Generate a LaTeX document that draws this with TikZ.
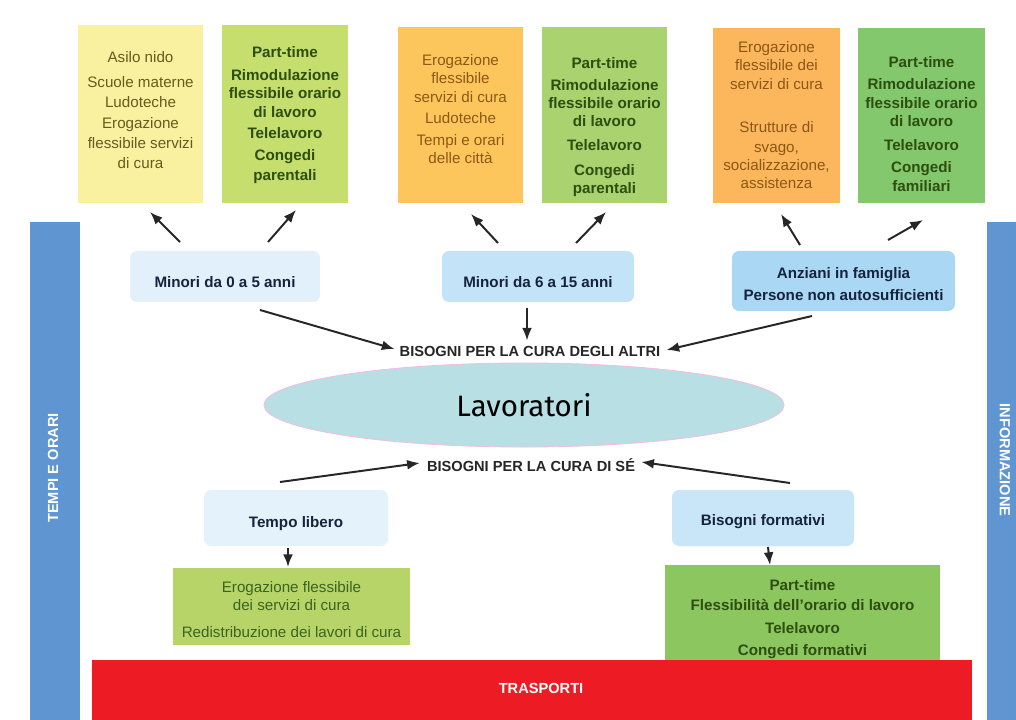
\documentclass[tikz,border=0pt]{standalone}
\usepackage{fontspec}
\setmainfont{Liberation Sans}
\newfontfamily\lavfont{Fira Sans}
\usetikzlibrary{calc,arrows.meta,fit,shapes.geometric}

\definecolor{cYel}{RGB}{249,240,160}
\definecolor{cLime}{RGB}{198,222,110}
\definecolor{cOrA}{RGB}{253,198,92}
\definecolor{cGrA}{RGB}{170,210,110}
\definecolor{cOrB}{RGB}{252,182,92}
\definecolor{cGrB}{RGB}{132,200,110}
\definecolor{cGrC}{RGB}{183,212,105}
\definecolor{cGrD}{RGB}{140,198,95}
\definecolor{cRed}{RGB}{237,28,36}
\definecolor{cBar}{RGB}{95,150,210}
\definecolor{cEll}{RGB}{184,223,227}
\definecolor{cPink}{RGB}{240,190,225}
\definecolor{cM1}{RGB}{225,240,250}
\definecolor{cM2}{RGB}{195,228,248}
\definecolor{cM3}{RGB}{170,216,244}
\definecolor{cTL}{RGB}{228,242,251}
\definecolor{cBF}{RGB}{200,230,248}
\definecolor{tOlive}{RGB}{105,90,30}
\definecolor{tDkGr}{RGB}{45,78,15}
\definecolor{tBrown}{RGB}{140,88,22}
\definecolor{tNavy}{RGB}{22,35,60}
\definecolor{tGrL}{RGB}{60,100,30}

\begin{document}
\begin{tikzpicture}[x=0.025cm,y=-0.025cm,
  box/.style={inner sep=0pt, outer sep=0pt, draw=none},
  needbox/.style={box, rounded corners=5pt},
  txt/.style={inner sep=0pt, align=center, font=\fontsize{10.8pt}{13pt}\selectfont},
  btxt/.style={inner sep=0pt, align=center, font=\fontsize{10.8pt}{13pt}\selectfont\bfseries},
  captxt/.style={inner sep=0pt, font=\fontsize{10.4pt}{12pt}\selectfont\bfseries},
  arr/.style={-{Latex[length=9pt,width=7pt]}, line width=1.4pt, black!85}]

\useasboundingbox (0,0) rectangle (1016,720);
\fill[white] (0,0) rectangle (1016,720);

% side bars
\node[box, fill=cBar, fit={(30,222)(80,720)}] (lbar) {};
\node[box, fill=cBar, fit={(987,222)(1016,720)}] (rbar) {};
\node[captxt, white, rotate=90] (lbartxt) at (53,468) {TEMPI E ORARI};
\node[captxt, white, rotate=-90] (rbartxt) at (1005,460) {INFORMAZIONE};

% top boxes
\node[box, fill=cYel,  fit={(78,25)(203,203)}]  (t1) {};
\node[box, fill=cLime, fit={(222,25)(348,203)}] (t2) {};
\node[box, fill=cOrA,  fit={(398,27)(523,203)}] (t3) {};
\node[box, fill=cGrA,  fit={(542,27)(667,203)}] (t4) {};
\node[box, fill=cOrB,  fit={(713,28)(840,203)}] (t5) {};
\node[box, fill=cGrB,  fit={(858,28)(985,203)}] (t6) {};

\node[txt, text=tOlive, anchor=north] (t1txt) at (140.5,51)
  {Asilo nido\\[4.7pt]Scuole materne\\[1.2pt]Ludoteche\\[1.9pt]Erogazione\\[1.2pt]flessibile servizi\\[1.2pt]di cura};
\node[btxt, text=tDkGr, anchor=north] (t2txt) at (285,46)
  {Part-time\\[3.3pt]Rimodulazione\\flessibile orario\\[0.5pt]di lavoro\\[2pt]Telelavoro\\[2.6pt]Congedi\\[1.2pt]parentali};
\node[txt, text=tBrown, anchor=north] (t3txt) at (460.5,54)
  {Erogazione\\flessibile\\[0.5pt]servizi di cura\\[2pt]Ludoteche\\[2.6pt]Tempi e orari\\delle città};
\node[btxt, text=tDkGr, anchor=north] (t4txt) at (604.5,57)
  {Part-time\\[2.6pt]Rimodulazione\\flessibile orario\\di lavoro\\[4pt]Telelavoro\\[4.7pt]Congedi\\parentali};
\node[txt, text=tBrown, anchor=north] (t5txt) at (776.5,41)
  {Erogazione\\flessibile dei\\[0.8pt]servizi di cura\\[17.5pt]Strutture di\\[0.8pt]svago,\\socializzazione,\\assistenza};
\node[btxt, text=tDkGr, anchor=north] (t6txt) at (921.5,56)
  {Part-time\\[3pt]Rimodulazione\\flessibile orario\\di lavoro\\[4pt]Telelavoro\\[3pt]Congedi\\familiari};

% need boxes
\node[needbox, fill=cM1, fit={(130,251)(320,302)}] (m1) {};
\node[needbox, fill=cM2, fit={(442,251)(634,302)}] (m2) {};
\node[needbox, fill=cM3, fit={(732,251)(955,311)}] (m3) {};
\node[btxt, text=tNavy] (m1txt) at (225,282) {Minori da 0 a 5 anni};
\node[btxt, text=tNavy] (m2txt) at (538,282) {Minori da 6 a 15 anni};
\node[btxt, text=tNavy, font=\fontsize{10.8pt}{16pt}\selectfont\bfseries] (m3txt) at (843.5,284) {Anziani in famiglia\\Persone non autosufficienti};

% central
\node[captxt, text=black!85] (bal) at (530,351) {BISOGNI PER LA CURA DEGLI ALTRI};
\node[ellipse, fill=cEll, draw=cPink, line width=0.6pt, inner sep=0pt,
      minimum width=13cm, minimum height=2.1cm,
      font=\lavfont\fontsize{21pt}{24pt}\selectfont] (lav) at (524,405) {Lavoratori};
\node[captxt, text=black!85] (bse) at (531,465) {BISOGNI PER LA CURA DI SÉ};

% lower boxes
\node[needbox, fill=cTL, fit={(204,490)(388,546)}] (tl) {};
\node[needbox, fill=cBF, fit={(672,490)(854,546)}] (bf) {};
\node[btxt, text=tNavy] (tltxt) at (296,524) {Tempo libero};
\node[btxt, text=tNavy] (bftxt) at (763,522) {Bisogni formativi};

\node[box, fill=cGrC, fit={(173,568)(410,645)}] (g1) {};
\node[box, fill=cGrD, fit={(665,565)(940,672)}] (g2) {};
\node[txt, text=tGrL, anchor=north] (g1txt) at (291.5,581)
  {Erogazione flessibile\\dei servizi di cura\\[6pt]Redistribuzione dei lavori di cura};
\node[btxt, text=tDkGr, anchor=north] (g2txt) at (802.5,579)
  {Part-time\\[1.2pt]Flessibilità dell'orario di lavoro\\[3.3pt]Telelavoro\\[2.6pt]Congedi formativi};

% transport bar
\node[box, fill=cRed, fit={(92,660)(972,720)}] (tr) {};
\node[captxt, white] (trtxt) at (541,688) {TRASPORTI};

% arrows
\draw[arr] ($(m1.north)+(-45,-9)$) -- ($(t1.south)+(9.5,9)$);
\draw[arr] ($(m1.north)+(43,-9)$) -- ($(t2.south)+(11,7)$);
\draw[arr] ($(m2.north)+(-40,-8)$) -- ($(t3.south)+(10.5,11)$);
\draw[arr] ($(m2.north)+(38,-8)$) -- ($(t4.south)+(1.5,9)$);
\draw[arr] ($(m3.north)+(-43.5,-6)$) -- ($(t5.south)+(4.5,11)$);
\draw[arr] ($(m3.north)+(44.5,-11)$) -- ($(t6.south)+(1.5,17)$);
\draw[arr] ($(m1.south)+(35,8)$) -- ($(bal.west)+(-5,-2)$);
\draw[arr] ($(m2.south)+(-11,6)$) -- ($(bal.north)+(-3,-5)$);
\draw[arr] ($(m3.south)+(-31.5,5)$) -- ($(bal.east)+(6,-1)$);
\draw[arr] ($(tl.north)+(-16,-8)$) -- ($(bse.west)+(-7,-2)$);
\draw[arr] ($(bf.north)+(27,-7)$) -- ($(bse.east)+(6,-3)$);
\draw[arr] ($(tl.south)+(-8,2)$) -- ($(g1.north)+(-3.5,-1)$);
\draw[arr] ($(bf.south)+(5,1)$) -- ($(g2.north)+(-32.5,0)$);
\end{tikzpicture}
\end{document}
